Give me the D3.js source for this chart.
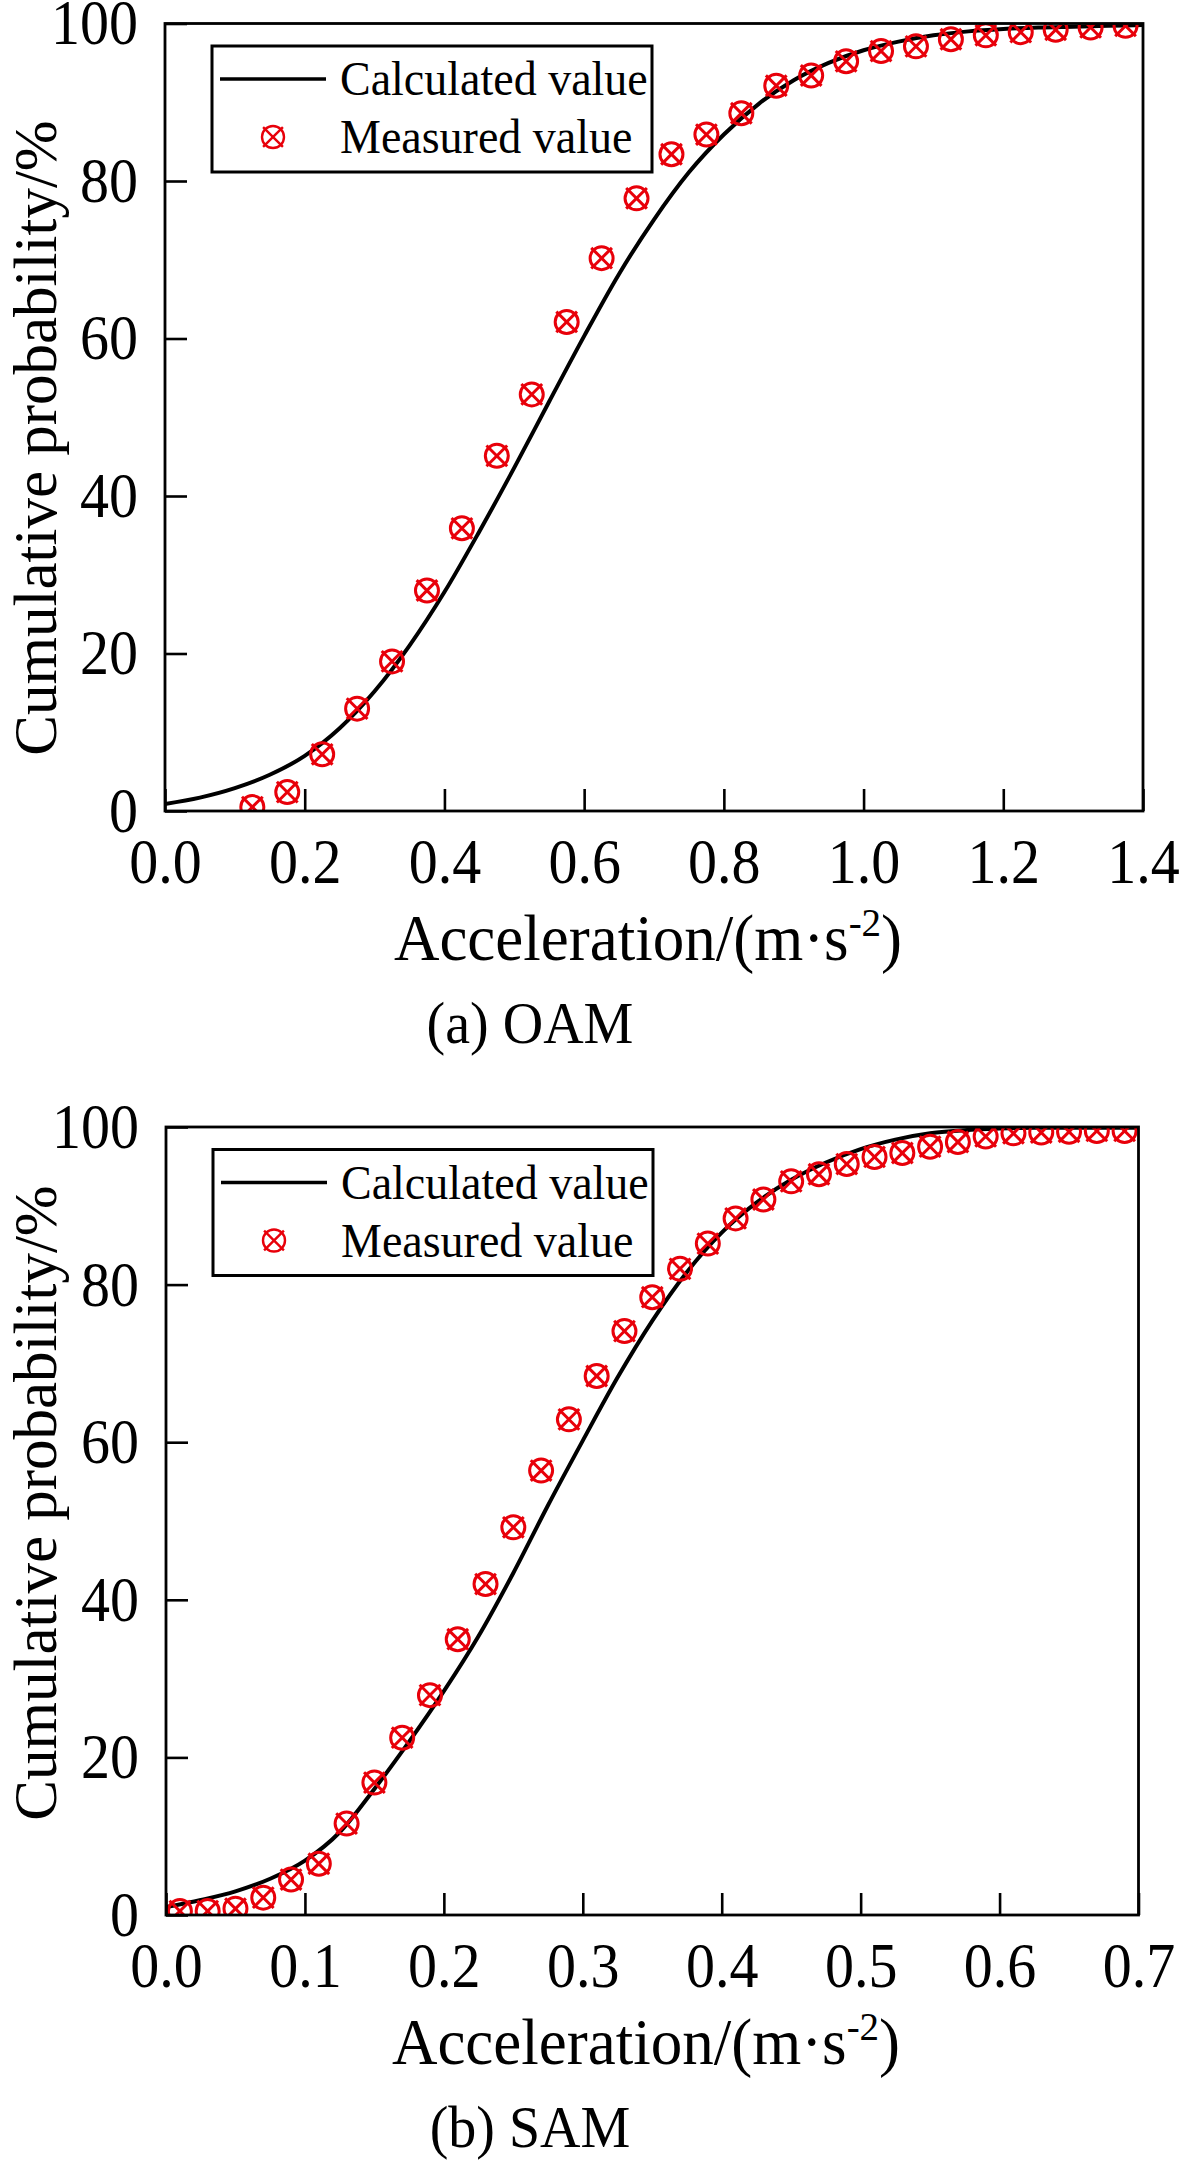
<!DOCTYPE html>
<html>
<head>
<meta charset="utf-8">
<script src="https://cdn.jsdelivr.net/npm/d3@7/dist/d3.min.js"></script>
<style>
  html, body { margin: 0; padding: 0; background: #ffffff; }
  svg text { font-family: "Liberation Serif", "Times New Roman", serif; fill: #000; }
</style>
</head>
<body>
<svg id="chart" width="1181" height="2161"></svg>
<script>
// ---------------- DATA ----------------
// (a) OAM
const oamCalcX = [0.00, 0.05, 0.10, 0.15, 0.20, 0.25, 0.30, 0.35, 0.40, 0.45, 0.50, 0.55, 0.60, 0.65, 0.70, 0.75, 0.80, 0.85, 0.90, 0.95, 1.00, 1.05, 1.10, 1.15, 1.20, 1.25, 1.30, 1.35, 1.40];
const oamCalcY = [0.9, 1.7, 2.9, 4.6, 7.0, 10.5, 15.2, 21.0, 27.8, 35.5, 43.6, 52.0, 60.3, 68.2, 75.1, 81.1, 85.9, 89.8, 92.8, 95.0, 96.6, 97.7, 98.5, 99.0, 99.3, 99.5, 99.6, 99.7, 99.8];
const oamMeasX = [0.125, 0.175, 0.225, 0.275, 0.325, 0.375, 0.425, 0.475, 0.525, 0.575, 0.625, 0.675, 0.725, 0.775, 0.825, 0.875, 0.925, 0.975, 1.025, 1.075, 1.125, 1.175, 1.225, 1.275, 1.325, 1.375];
const oamMeasY = [0.5, 2.4, 7.2, 13.0, 19.0, 28.0, 35.9, 45.1, 52.9, 62.1, 70.2, 77.8, 83.4, 85.9, 88.6, 92.1, 93.4, 95.2, 96.5, 97.1, 98.0, 98.5, 98.9, 99.2, 99.5, 99.7];
const oamXTicks = [0.0, 0.2, 0.4, 0.6, 0.8, 1.0, 1.2, 1.4];

// (b) SAM
const samCalcX = [0.000, 0.025, 0.050, 0.075, 0.100, 0.125, 0.150, 0.175, 0.200, 0.225, 0.250, 0.275, 0.300, 0.325, 0.350, 0.375, 0.400, 0.425, 0.450, 0.475, 0.500, 0.525, 0.550, 0.575, 0.600, 0.625, 0.650, 0.675, 0.700];
const samCalcY = [1.0, 1.9, 3.0, 4.6, 6.9, 10.5, 16.0, 22.0, 28.4, 35.4, 43.4, 52.0, 60.2, 68.2, 75.4, 81.6, 86.6, 90.4, 93.3, 95.5, 97.2, 98.4, 99.2, 99.6, 99.8, 99.9, 99.9, 99.9, 99.9];
const samMeasX = [0.01, 0.03, 0.05, 0.07, 0.09, 0.11, 0.13, 0.15, 0.17, 0.19, 0.21, 0.23, 0.25, 0.27, 0.29, 0.31, 0.33, 0.35, 0.37, 0.39, 0.41, 0.43, 0.45, 0.47, 0.49, 0.51, 0.53, 0.55, 0.57, 0.59, 0.61, 0.63, 0.65, 0.67, 0.69];
const samMeasY = [0.5, 0.5, 0.8, 2.2, 4.5, 6.5, 11.6, 16.8, 22.5, 27.9, 35.0, 42.0, 49.2, 56.4, 62.9, 68.4, 74.1, 78.4, 82.0, 85.2, 88.4, 90.8, 93.1, 94.0, 95.3, 96.2, 96.7, 97.5, 98.1, 98.8, 99.2, 99.3, 99.4, 99.5, 99.5];
const samXTicks = [0.0, 0.1, 0.2, 0.3, 0.4, 0.5, 0.6, 0.7];

const yTicks = [0, 20, 40, 60, 80, 100];
const legendLabels = ["Calculated value", "Measured value"];
const yTitle = "Cumulative probability/%";
const captions = ["(a) OAM", "(b) SAM"];

// ---------------- DRAW ----------------
const svg = d3.select("#chart");
const RED = "#e8000a";

function drawMarker(g, r, sw) {
  g.append("circle").attr("r", r).attr("fill", "none").attr("stroke", RED).attr("stroke-width", sw);
  const a = r * 0.9;
  g.append("line").attr("x1", -a).attr("y1", -a).attr("x2", a).attr("y2", a)
    .attr("stroke", RED).attr("stroke-width", sw);
  g.append("line").attr("x1", -a).attr("y1", a).attr("x2", a).attr("y2", -a)
    .attr("stroke", RED).attr("stroke-width", sw);
}

// text with slight vertical stretch like the source figure
function stext(parent, x, y, size, sy, str, anchor) {
  return parent.append("text")
    .attr("transform", `translate(${x},${y}) scale(1,${sy})`)
    .attr("text-anchor", anchor || "start")
    .style("font-size", size + "px")
    .text(str);
}

function panel(cfg) {
  const { left, right, top, bottom, xMax, xTicks, calcX, calcY, measX, measY, id, caption, yTitleY, xTitleX } = cfg;
  const x = d3.scaleLinear().domain([0, xMax]).range([left, right]);
  const y = d3.scaleLinear().domain([0, 100]).range([bottom, top]);
  const g = svg.append("g");

  const clipId = "clip" + id;
  svg.append("defs").append("clipPath").attr("id", clipId)
    .append("rect").attr("x", left).attr("y", top).attr("width", right - left).attr("height", bottom - top);

  // calculated curve
  const calc = calcX.map((d, i) => [d, calcY[i]]);
  g.append("path")
    .datum(calc)
    .attr("clip-path", `url(#${clipId})`)
    .attr("fill", "none")
    .attr("stroke", "#000")
    .attr("stroke-width", 4)
    .attr("d", d3.line().x(d => x(d[0])).y(d => y(d[1])).curve(d3.curveMonotoneX));

  // measured markers
  const meas = measX.map((d, i) => [d, measY[i]]);
  const mg = g.append("g").attr("clip-path", `url(#${clipId})`);
  meas.forEach(d => {
    const m = mg.append("g").attr("transform", `translate(${x(d[0])},${y(d[1])})`);
    drawMarker(m, 11.5, 3);
  });

  // axes (inward ticks)
  const SY = 1.1;
  const xAxis = d3.axisBottom(x).tickValues(xTicks).tickFormat(d3.format(".1f"))
    .tickSizeInner(-22).tickSizeOuter(0).tickPadding(24.5);
  const yAxis = d3.axisLeft(y).tickValues(yTicks).tickFormat(d3.format("d"))
    .tickSizeInner(-22).tickSizeOuter(0).tickPadding(27);

  const gx = g.append("g").attr("transform", `translate(0,${bottom})`).call(xAxis);
  const gy = g.append("g").attr("transform", `translate(${left},0)`).call(yAxis);
  [gx, gy].forEach(a => {
    a.selectAll("path.domain").remove();
    a.selectAll(".tick line").attr("stroke", "#000").attr("stroke-width", 2.6);
    a.selectAll(".tick text").style("font-size", "58px").attr("fill", "#000")
      .attr("transform", `scale(1,${SY})`)
      .style("font-family", "'Liberation Serif', 'Times New Roman', serif");
  });

  // frame
  g.append("rect").attr("x", left).attr("y", top).attr("width", right - left).attr("height", bottom - top)
    .attr("fill", "none").attr("stroke", "#000").attr("stroke-width", 2.8);

  // legend
  const lx = left + 47, ly = top + 22.5, lw = 440, lh = 126;
  g.append("rect").attr("x", lx).attr("y", ly).attr("width", lw).attr("height", lh)
    .attr("fill", "#fff").attr("stroke", "#000").attr("stroke-width", 3);
  g.append("line").attr("x1", lx + 8).attr("x2", lx + 114).attr("y1", ly + 33).attr("y2", ly + 33)
    .attr("stroke", "#000").attr("stroke-width", 3.5);
  stext(g, lx + 128, ly + 49, 46, 1.06, legendLabels[0]);
  const lm = g.append("g").attr("transform", `translate(${lx + 61},${ly + 91})`);
  drawMarker(lm, 11, 2.4);
  stext(g, lx + 128, ly + 107, 46, 1.06, legendLabels[1]);

  // y title
  g.append("text")
    .attr("transform", `translate(56,${yTitleY}) rotate(-90)`)
    .attr("text-anchor", "middle")
    .style("font-size", "61px")
    .text(yTitle);

  // x title with superscript
  const xt = g.append("text")
    .attr("transform", `translate(${xTitleX},${bottom + 149}) scale(1,1.04)`)
    .attr("text-anchor", "middle")
    .style("font-size", "63px");
  xt.append("tspan").text("Acceleration/(m·s");
  xt.append("tspan").attr("dy", -23).style("font-size", "39px").text("-2");
  xt.append("tspan").attr("dy", 23).text(")");

  // caption
  stext(g, 530, bottom + 232, 56, 1.06, caption, "middle");
}

panel({
  id: "a", left: 165, right: 1143, top: 23.5, bottom: 811, xMax: 1.4, xTicks: oamXTicks,
  calcX: oamCalcX, calcY: oamCalcY, measX: oamMeasX, measY: oamMeasY,
  caption: captions[0], yTitleY: 438, xTitleX: 648
});
panel({
  id: "b", left: 166, right: 1138.5, top: 1127, bottom: 1915, xMax: 0.7, xTicks: samXTicks,
  calcX: samCalcX, calcY: samCalcY, measX: samMeasX, measY: samMeasY,
  caption: captions[1], yTitleY: 1503, xTitleX: 646
});
</script>
</body>
</html>
